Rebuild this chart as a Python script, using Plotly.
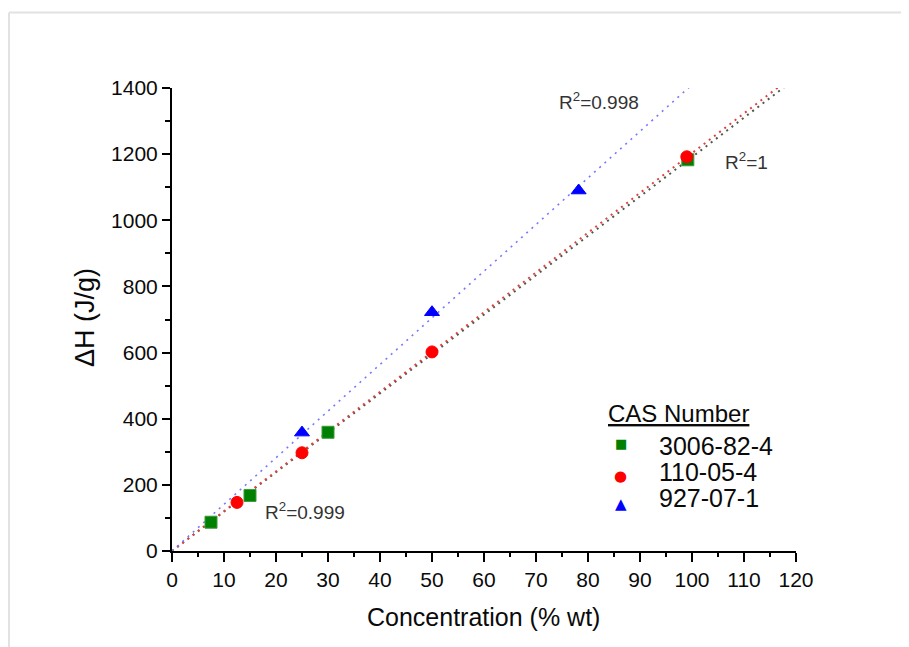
import numpy as np
import plotly.graph_objects as go

# ---- data ----
x_3006 = [7.5, 15, 30, 99.2]
y_3006 = [87, 168, 359, 1183]
x_110 = [12.5, 25, 50, 99.0]
y_110 = [147, 297, 602, 1192]
x_927 = [25, 50, 78.2]
y_927 = [358, 722, 1090]

series_names = ["3006-82-4", "110-05-4", "927-07-1"]
legend_title = "CAS Number"
r2_labels = ["R<sup>2</sup>=0.999", "R<sup>2</sup>=1", "R<sup>2</sup>=0.998"]
x_title = "Concentration (% wt)"
y_title = "ΔH (J/g)"

X_RANGE = [0, 120]
Y_RANGE = [0, 1400]

FONT = "Liberation Sans, Arial, Helvetica, sans-serif"

def slope_through_origin(x, y):
    x = np.asarray(x, float)
    y = np.asarray(y, float)
    return float(np.sum(x * y) / np.sum(x * x))

fit_x = np.linspace(X_RANGE[0], X_RANGE[1], 2)

fig = go.Figure()

series = [
    (x_3006, y_3006, "#008000", "square", 12, "#3c9a3c", "#4a5a4a", "2px,4.5px", 2.0),
    (x_110, y_110, "#ff0000", "circle", 12, "#ff0000", "#e04040", "2px,4.5px", 2.0),
    (x_927, y_927, "#0000ff", "triangle-up", 13, "#0000ff", "#7777ff", "2px,5px", 1.6),
]

# fit lines (least squares through origin)
for (xs, ys, col, sym, sz, lcol, fcol, dash, lw), name in zip(series, series_names):
    k = slope_through_origin(xs, ys)
    fig.add_trace(go.Scatter(x=fit_x, y=k * fit_x, mode="lines",
                             line=dict(color=fcol, width=lw, dash=dash),
                             showlegend=False, hoverinfo="skip"))

# markers
for (xs, ys, col, sym, sz, lcol, fcol, dash, lw), name in zip(series, series_names):
    fig.add_trace(go.Scatter(x=xs, y=ys, mode="markers", name=name,
                             marker=dict(symbol=sym, size=sz, color=col,
                                         line=dict(color=lcol, width=1)),
                             showlegend=False, cliponaxis=False))

# plot-area geometry in page pixels; the page body adds an 8px offset
OFF = 8
W, H = 909, 647
L, R, T, B = 172, 796, 88, 551
def px(p):
    return (p - L) / (R - L)
def py(p):
    return (B - p) / (B - T)

annotations = []
# R^2 labels (data coordinates)
r2_pos = [(25.5, 122), (110.4, 1178), (82.1, 1362)]
for lab, (ax_, ay_) in zip(r2_labels, r2_pos):
    annotations.append(dict(x=ax_, y=ay_, xref="x", yref="y", text=lab,
                            showarrow=False, font=dict(family=FONT, size=19, color="#333333"),
                            xanchor="center", yanchor="middle"))

# axis titles
annotations.append(dict(x=px(483), y=py(617), xref="paper", yref="paper", text=x_title,
                        showarrow=False, font=dict(family=FONT, size=25, color="#0a0a0a"),
                        xanchor="center", yanchor="middle"))
annotations.append(dict(x=px(85), y=py(318), xref="paper", yref="paper", text=y_title,
                        showarrow=False, textangle=-90,
                        font=dict(family=FONT, size=27, color="#0a0a0a"),
                        xanchor="center", yanchor="middle"))

# legend built from annotations
annotations.append(dict(x=px(606), y=py(413), xref="paper", yref="paper",
                        text="<u>" + legend_title + "</u>", showarrow=False,
                        font=dict(family=FONT, size=24, color="#0a0a0a"),
                        xanchor="left", yanchor="middle"))
text_y = [446, 471.7, 497.5]
sym_y = [443.5, 476, 504]
glyphs = ["■", "●", "▲"]
glyph_sizes = [13, 15, 15]
for name, ty, sy, g, gs, s in zip(series_names, text_y, sym_y, glyphs, glyph_sizes, series):
    annotations.append(dict(x=px(657), y=py(ty), xref="paper", yref="paper", text=name,
                            showarrow=False, font=dict(family=FONT, size=25, color="#0a0a0a"),
                            xanchor="left", yanchor="middle"))
    annotations.append(dict(x=px(620.5), y=py(sy), xref="paper", yref="paper", text=g,
                            showarrow=False, font=dict(family="DejaVu Sans", size=gs, color=s[2]),
                            xanchor="center", yanchor="middle"))

shapes = [
    dict(type="line", xref="paper", yref="paper", x0=px(9), x1=px(930), y0=py(12.5), y1=py(12.5),
         line=dict(color="#e2e2e2", width=2)),
    dict(type="line", xref="paper", yref="paper", x0=px(9), x1=px(9), y0=py(12.5), y1=py(670),
         line=dict(color="#e2e2e2", width=2)),
]

axis_common = dict(showgrid=False, zeroline=False, showline=True, linecolor="#000000",
                   linewidth=2, ticks="outside", tickcolor="#000000", tickwidth=1.5,
                   tickfont=dict(family=FONT, size=21, color="#0a0a0a"), mirror=False)

fig.update_layout(
    width=W, height=H,
    margin=dict(l=L - OFF, r=W - (R - OFF), t=T - OFF, b=H - (B - OFF)),
    paper_bgcolor="white", plot_bgcolor="white",
    xaxis=dict(range=X_RANGE, dtick=10, tick0=0, ticklen=9,
               minor=dict(dtick=5, ticklen=4, ticks="outside", tickcolor="#000000", tickwidth=1.5),
               **axis_common),
    yaxis=dict(range=Y_RANGE, dtick=200, tick0=0, ticklen=8,
               minor=dict(dtick=100, ticklen=5, ticks="outside", tickcolor="#000000", tickwidth=1.5),
               **axis_common),
    annotations=annotations,
    shapes=shapes,
    showlegend=False,
)

fig.write_html("out.html")
